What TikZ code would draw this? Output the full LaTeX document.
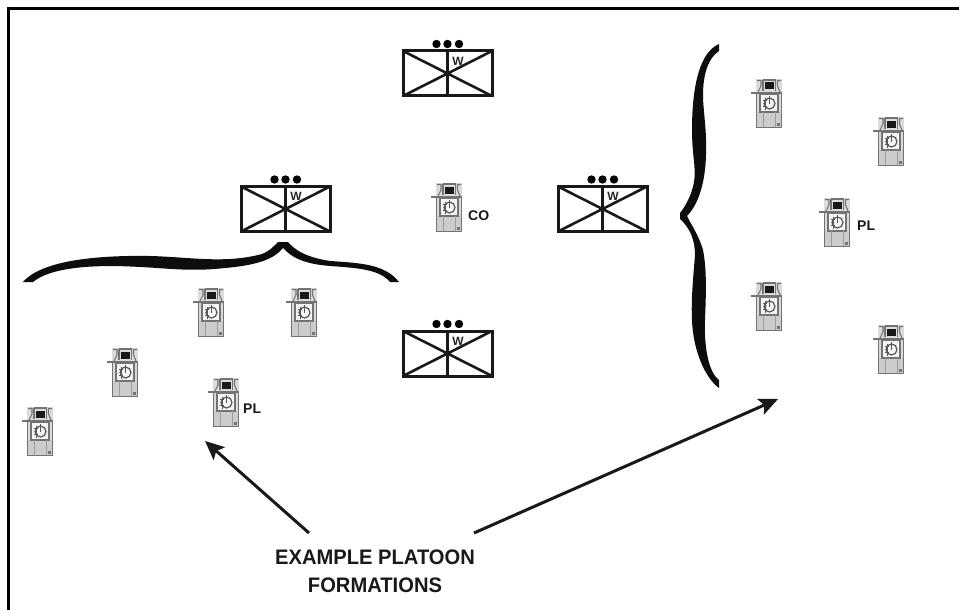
\documentclass[tikz,border=0pt]{standalone}
\usepackage{fontspec}
\setmainfont{Liberation Sans}
\newfontfamily\ttlfont[FakeStretch=0.96]{Liberation Sans}
\usetikzlibrary{arrows.meta}
\definecolor{tkline}{gray}{0.45}
\definecolor{tkfill}{gray}{0.80}
\tikzset{
  x=1pt,y=-1pt,
  frameline/.style={line width=3pt,black},
  boxline/.style={line width=3pt,black!90},
  pointer/.style={line width=3pt,black!90,-{Stealth[length=19pt,width=17pt,inset=4pt]}},
  lbl/.style={font=\bfseries\fontsize{14}{14}\selectfont,black!90,inner sep=0pt,anchor=west},
  tklbl/.style={font=\ttlfont\bfseries\fontsize{21}{28}\selectfont,black!90,inner sep=0pt,align=center},
  wlbl/.style={font=\bfseries\fontsize{12}{12}\selectfont,black!85,inner sep=0pt},
  brace/.style={fill=black!95,draw=none},
  tank/.pic={
    \fill[tkfill!70] (0,0) rectangle (26,49);
    \fill[tkfill] (1,33) rectangle (25,48.5);
    \fill[white!80!tkfill] (5,15) rectangle (21,32);
    \draw[tkline,line width=1.1pt] (0.5,14) -- (0.5,48.5) -- (25.5,48.5) -- (25.5,14);
    \draw[tkline,line width=1.3pt] (-5,14) -- (26,14);
    \draw[tkline,line width=1.1pt] (4,15) rectangle (22,33);
    \fill[black!90] (9,3.5) rectangle (17.5,10.5);
    \draw[tkline,line width=1.1pt] (7,1) -- (19.5,1) (7,1) -- (7,12) (19.5,1) -- (19.5,12);
    \draw[tkline,line width=1.1pt] (1,1.5) -- (5,1.5) -- (5,7) -- (2,13) (25,1.5) -- (21.5,1.5) -- (21.5,7) -- (24,13);
    \draw[tkline!75!black,line width=1.2pt] (13.5,24.5) circle (5.5);
    \draw[tkline!75!black,line width=1.2pt] (7,21.5) -- (11,21.5) (7,27.5) -- (11,27.5) (9.5,19) -- (9.5,31) (13.5,17) -- (13.5,24.5);
    \draw[tkline!70!white,line width=.9pt] (7,33) -- (7,48) (19,33) -- (19,48);
    \fill[tkline] (20.5,44) rectangle (23.5,47);
  },
  platoon/.pic={
    \draw[boxline] (0,0) rectangle (89,45);
    \draw[boxline,line width=2.6pt] (0,0) -- (89,45) (89,0) -- (0,45) (44.5,0) -- (44.5,45);
    \fill[black] (33.5,-7) circle (4.2) (44.5,-7) circle (4.2) (56,-7) circle (4.2);
    \node[wlbl] at (55,10) {W};
  },
}
\begin{document}
\begin{tikzpicture}
\useasboundingbox (0,0) rectangle (959,610);
\fill[white] (0,0) rectangle (959,610);
\draw[frameline] (8,610) -- (8,9) -- (959,9);

% platoon markers
\pic at (403,51) {platoon};
\pic at (241,186.5) {platoon};
\pic at (558,186.5) {platoon};
\pic at (403,331) {platoon};

% tanks
\foreach \tx/\ty in {436/183,756/79,878/117,824/198,756/282,878/325,198/288,291/288,112/348,213/378,27/407}
  \pic at (\tx,\ty) {tank};

% labels
\node[lbl] (co) at (468,216) {CO};
\node[lbl] (plr) at (857,226) {PL};
\node[lbl] (pll) at (243,408.5) {PL};
\node[tklbl] (ttl) at (375,571) {EXAMPLE PLATOON\\FORMATIONS};

% braces
\fill[brace] (23,282) .. controls (40,262) and (90,255) .. (150,256)
  .. controls (190,257) and (225,264) .. (262,254)
  .. controls (270,251) and (275,245) .. (278,242) -- (288,242)
  .. controls (295,250) and (305,257) .. (330,261)
  .. controls (360,263) and (385,264) .. (399,282) -- (390,282)
  .. controls (380,270) and (360,268) .. (330,266)
  .. controls (305,264) and (292,258) .. (283,248)
  .. controls (275,258) and (260,265) .. (225,268)
  .. controls (190,272) and (165,268) .. (140,267)
  .. controls (90,264) and (50,268) .. (33,282) -- cycle;
\fill[brace] (719,44) .. controls (700,52) and (692,85) .. (692,130)
  .. controls (692,160) and (698,172) .. (692,190)
  .. controls (689,200) and (684,208) .. (680,213) -- (680,219)
  .. controls (690,228) and (695,240) .. (695,255)
  .. controls (693,280) and (691,300) .. (692,320)
  .. controls (693,350) and (705,378) .. (719,388) -- (719,380)
  .. controls (708,372) and (704,345) .. (705,320)
  .. controls (706,295) and (707,270) .. (703,250)
  .. controls (699,236) and (692,226) .. (687,216)
  .. controls (695,208) and (705,190) .. (706,155)
  .. controls (707,130) and (703,110) .. (703,95)
  .. controls (703,75) and (708,58) .. (719,51) -- cycle;

% arrows
\coordinate (a1s) at (309,533); \coordinate (a1e) at (205,441);
\coordinate (a2s) at (474,533); \coordinate (a2e) at (778,399);
\draw[pointer] (a1s) -- (a1e);
\draw[pointer] (a2s) -- (a2e);
\end{tikzpicture}
\end{document}
